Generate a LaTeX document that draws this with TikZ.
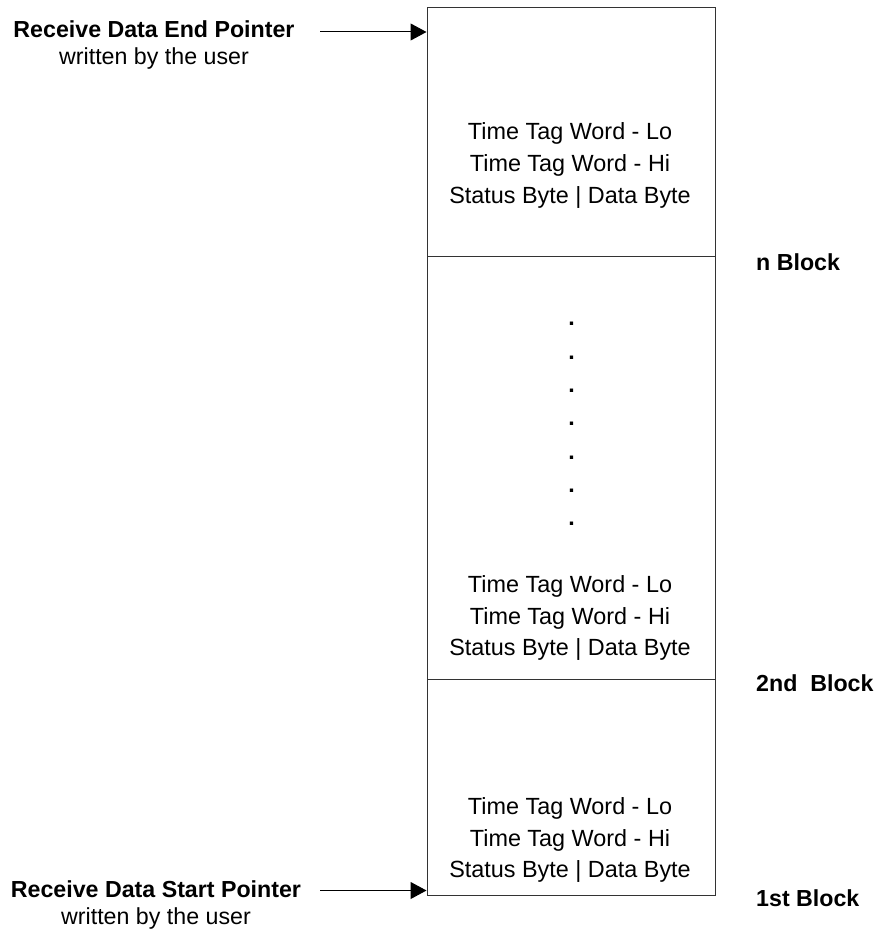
\documentclass[tikz,border=0pt]{standalone}
\usepackage{fontspec}
\setmainfont{Liberation Sans}
\usetikzlibrary{arrows.meta}
\definecolor{boxline}{HTML}{333333}
\tikzset{
  blk/.style={draw=boxline, line width=1pt, rectangle, inner sep=0pt, minimum width=288pt},
  words/.style={align=center, inner sep=0pt, font=\fontsize{23.4}{31.8}\selectfont},
  ptrlabel/.style={align=center, inner sep=0pt, font=\fontsize{23.2}{27.5}\selectfont},
  blklabel/.style={anchor=base west, inner sep=0pt, font=\fontsize{23.2}{28}\selectfont\bfseries},
  ptr/.style={line width=1pt, -{Triangle[length=16pt,width=17pt]}},
  dots/.style={align=center, inner sep=0pt, font=\fontsize{23.2}{33.3}\selectfont\bfseries}
}
\begin{document}
\begin{tikzpicture}[x=1pt,y=-1pt]
\useasboundingbox (0,0) rectangle (877,934);
% blocks
\node[blk, minimum height=248.5pt] (nblk) at (571,131.75) {};
\node[blk, minimum height=423pt] (mblk) at (571,467.5) {};
\node[blk, minimum height=216pt] (fblk) at (571,787) {};
% block contents
\node[words] (ntext) at (570,165.5) {Time Tag Word - Lo\\Time Tag Word - Hi\\Status Byte | Data Byte};
\node[dots] (vdots) at (571.5,424) {.\\.\\.\\.\\.\\.\\.};
\node[words] (stext) at (570,618) {Time Tag Word - Lo\\Time Tag Word - Hi\\Status Byte | Data Byte};
\node[words] (ftext) at (570,840) {Time Tag Word - Lo\\Time Tag Word - Hi\\Status Byte | Data Byte};
% block labels
\node[blklabel] (nlab) at (756,270) {n Block};
\node[blklabel] (slab) at (756,691) {2nd\ \ Block};
\node[blklabel] (flab) at (756,906) {1st Block};
% pointers
\node[ptrlabel] (endlab) at (154,45) {\textbf{Receive Data End Pointer}\\written by the user};
\node[ptrlabel] (startlab) at (156,905) {\textbf{Receive Data Start Pointer}\\written by the user};
\coordinate (es) at (320,32);
\coordinate (ss) at (320,890.5);
\draw[ptr] (es) -- (es -| nblk.west);
\draw[ptr] (ss) -- (ss -| fblk.west);
\end{tikzpicture}
\end{document}
